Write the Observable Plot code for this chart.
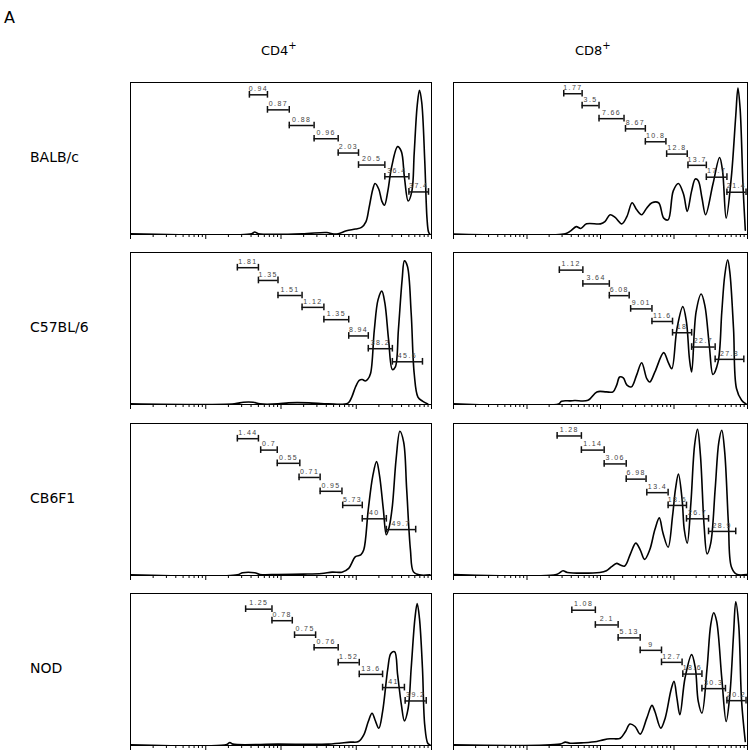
<!DOCTYPE html>
<html>
<head>
<meta charset="utf-8">
<script src="https://cdn.jsdelivr.net/npm/d3@7"></script>
<script src="https://cdn.jsdelivr.net/npm/@observablehq/plot@0.6"></script>
<style>
  html, body { margin: 0; padding: 0; background: #fff; }
  #root { position: relative; width: 750px; height: 751px; overflow: hidden; background: #fff; font-family: "DejaVu Sans", Verdana, sans-serif; color: #000; }
  .lbl { position: absolute; white-space: nowrap; line-height: 1; }
  .lbl sup { font-size: 10px; vertical-align: 6px; line-height: 0; }
  .panel { position: absolute; }
</style>
</head>
<body>
<div id="root"></div>
<script>
// ---------- data ----------
const panelLetter = "A";
const cellTypes = ["CD4", "CD8"];
const strains = ["BALB/c", "C57BL/6", "CB6F1", "NOD"];

const majorTicks = [1, 10, 100, 1000, 10000];
const minorTicks = [2, 3, 4, 5, 6, 7, 8, 9,
  20, 30, 40, 50, 60, 70, 80, 90,
  200, 300, 400, 500, 600, 700, 800, 900,
  2000, 3000, 4000, 5000, 6000, 7000, 8000, 9000];

// histogram curves: [log10 fluorescence, % of panel height]
const balbCD4 = [[0,0.5],[1.61,0.5],[1.65,1.6],[1.70,0.5],[2.28,0.5],[2.61,1.3],[2.68,0.5],[2.76,0.5],[2.87,2.5],[2.99,3.6],[3.07,4.7],[3.13,8.5],[3.17,17.5],[3.22,29.8],[3.25,33.6],[3.30,29.8],[3.34,22],[3.375,19.3],[3.42,28.7],[3.47,44.4],[3.55,57.8],[3.60,54.5],[3.64,37.7],[3.69,22],[3.74,28.7],[3.77,53.4],[3.81,84.8],[3.84,94.8],[3.87,87],[3.91,48.9],[3.94,10.8],[3.96,1.8],[3.98,0]];
const balbCD8 = [[0,0.3],[1.52,0.5],[1.59,2.2],[1.67,5.2],[1.73,4.0],[1.81,7.0],[2.0,7.0],[2.06,8.5],[2.13,13],[2.2,11.2],[2.29,7],[2.36,11.9],[2.43,20.9],[2.49,16.4],[2.56,13],[2.63,17.5],[2.70,20.9],[2.79,20.9],[2.86,10.8],[2.92,9.6],[2.99,28.7],[3.06,33.6],[3.13,26.5],[3.18,15.2],[3.24,28.7],[3.29,36.5],[3.33,35.4],[3.38,24.2],[3.43,13],[3.53,33.2],[3.62,50.7],[3.66,42.2],[3.71,10.8],[3.78,37.7],[3.84,78],[3.87,96.4],[3.90,82.5],[3.94,30.9],[3.97,2.9]];
const c57CD4 = [[0,0.4],[1.38,0.4],[1.50,1.5],[1.63,1.5],[1.72,0.4],[1.96,0.4],[2.10,1.1],[2.37,1.1],[2.63,0.4],[2.89,0.9],[2.94,4.9],[2.99,11.5],[3.04,15.9],[3.08,16.4],[3.12,15.5],[3.15,16.4],[3.19,20.4],[3.24,49],[3.29,69],[3.34,74.6],[3.38,66.8],[3.43,42.5],[3.48,23],[3.52,24.8],[3.56,49],[3.61,82.3],[3.64,94.5],[3.68,91],[3.73,60],[3.77,20.4],[3.82,4.9],[3.88,2.2],[3.95,0.4]];
const c57CD8 = [[0,0.4],[1.43,0.4],[1.47,2.2],[1.59,2.4],[1.65,2.6],[1.83,2.8],[1.95,8.3],[2.08,8.3],[2.17,8.3],[2.22,12.7],[2.26,18.1],[2.31,17.5],[2.36,12.7],[2.42,11.6],[2.49,19.2],[2.56,27.5],[2.63,17],[2.67,14.8],[2.74,21.4],[2.86,34.1],[2.92,27.9],[2.97,23.6],[3.04,49.8],[3.12,64.4],[3.17,54.1],[3.21,30.1],[3.24,21.4],[3.30,60.7],[3.37,72.7],[3.42,65.1],[3.48,38.9],[3.53,19.7],[3.60,28],[3.65,60.7],[3.69,84.7],[3.73,95.2],[3.76,86.9],[3.81,49.8],[3.85,10.5],[3.92,2.8],[3.98,0.4]];
const cb6CD4 = [[0,0.4],[1.42,0.4],[1.49,1.8],[1.65,1.8],[1.72,0.7],[1.96,0.7],[2.30,0.9],[2.54,1.3],[2.68,2.2],[2.81,2.2],[2.90,4.7],[2.99,12.4],[3.06,13.5],[3.10,16.9],[3.16,43.5],[3.22,65.6],[3.27,74.9],[3.31,65.6],[3.36,43.5],[3.40,26.8],[3.44,32.4],[3.48,45.7],[3.53,76.7],[3.58,94.9],[3.63,87.8],[3.67,56.8],[3.72,16.9],[3.76,2.4],[3.84,0.4],[3.98,0.4]];
const cb6CD8 = [[0,0.7],[1.40,0.7],[1.49,3.1],[1.55,2.0],[1.99,2.0],[2.08,3.1],[2.15,5.8],[2.22,8.0],[2.27,6.9],[2.33,6.2],[2.41,14.6],[2.48,21.3],[2.54,16.9],[2.60,10.6],[2.67,16.9],[2.74,30.2],[2.80,37.9],[2.85,27.9],[2.92,18.6],[2.98,39],[3.02,56.8],[3.06,66.7],[3.11,50.1],[3.14,30.2],[3.18,21.3],[3.23,47.9],[3.28,85.6],[3.32,96.2],[3.36,78.9],[3.41,32.4],[3.45,14.2],[3.50,21.3],[3.56,56.8],[3.61,87.8],[3.65,95.6],[3.69,81.2],[3.74,34.6],[3.78,5.8],[3.85,0.9],[3.99,0.7]];
const nodCD4 = [[0,0.4],[1.28,0.7],[1.32,2],[1.36,0.9],[1.96,0.9],[2.63,0.9],[2.92,2.2],[3.03,2.6],[3.10,7],[3.16,15.8],[3.21,21.2],[3.25,16.8],[3.30,11.4],[3.35,22.3],[3.42,50.8],[3.46,60.6],[3.51,61.7],[3.55,46.4],[3.60,26.7],[3.64,16.2],[3.69,24.5],[3.73,50.8],[3.78,83.6],[3.81,93.4],[3.84,83.6],[3.88,50.8],[3.91,13.6],[3.95,1.5],[3.98,0.4]];
const nodCD8 = [[0,0.4],[1.45,0.9],[1.52,2.2],[1.59,1.5],[1.77,1.8],[1.95,2.6],[2.04,3.7],[2.13,4.4],[2.18,4.4],[2.27,4.8],[2.34,9.2],[2.40,14.1],[2.47,12.5],[2.54,7.5],[2.63,18],[2.70,26.4],[2.74,22.4],[2.82,11.4],[2.88,18],[2.96,36.7],[3.00,42.2],[3.04,31.2],[3.08,20.2],[3.15,44.4],[3.24,59.8],[3.29,51],[3.33,29],[3.38,21.3],[3.45,51],[3.50,79.6],[3.54,87.3],[3.58,81.8],[3.65,44.4],[3.71,15.8],[3.76,33.4],[3.81,73],[3.84,94.5],[3.88,79.6],[3.92,29],[3.97,2.6]];

// division gates: [log10 start, log10 end, % height, label]
const balbCD4Gates = [[1.58,1.82,91.9,"0.94"],[1.82,2.11,82,"0.87"],[2.11,2.44,71.7,"0.88"],[2.44,2.76,63,"0.96"],[2.76,3.03,53.6,"2.03"],[3.03,3.38,45.7,"20.5"],[3.38,3.70,38,"36.4"],[3.70,3.96,28,"37.4"]];
const balbCD8Gates = [[1.50,1.75,92.6,"1.77"],[1.75,1.98,84.8,"3.5"],[1.98,2.32,76.2,"7.66"],[2.34,2.61,69.5,"8.67"],[2.61,2.89,61,"10.8"],[2.90,3.18,52.9,"12.8"],[3.19,3.44,45.5,"13.7"],[3.44,3.72,37.7,"17.7"],[3.72,3.98,27.8,"21.4"]];
const c57CD4Gates = [[1.42,1.70,90,"1.81"],[1.70,1.96,81.6,"1.35"],[1.96,2.28,71.7,"1.51"],[2.28,2.57,63.9,"1.12"],[2.57,2.90,55.8,"1.35"],[2.90,3.16,45.1,"8.94"],[3.16,3.48,36.7,"38.2"],[3.48,3.88,28.1,"45.6"]];
const c57CD8Gates = [[1.44,1.76,88.4,"1.12"],[1.76,2.12,79.3,"3.64"],[2.12,2.39,71.6,"6.08"],[2.41,2.70,62.9,"9.01"],[2.70,2.98,54.6,"11.6"],[2.98,3.24,47.2,"18"],[3.24,3.56,37.8,"22.7"],[3.56,3.95,29.7,"27.8"]];
const cb6CD4Gates = [[1.42,1.70,90,"1.44"],[1.73,1.95,82.5,"0.7"],[1.95,2.25,73.8,"0.55"],[2.24,2.52,64.5,"0.71"],[2.52,2.81,55.4,"0.95"],[2.82,3.08,46.1,"5.73"],[3.08,3.40,37.3,"40"],[3.40,3.79,30.2,"49.7"]];
const cb6CD8Gates = [[1.41,1.74,91.8,"1.28"],[1.74,2.05,82.5,"1.14"],[2.05,2.35,73.4,"3.06"],[2.35,2.62,63.4,"6.98"],[2.63,2.92,54.5,"13.4"],[2.92,3.17,46.1,"18.6"],[3.17,3.47,37.3,"26.7"],[3.47,3.84,29,"28.9"]];
const nodCD4Gates = [[1.53,1.88,89.7,"1.25"],[1.88,2.15,82.1,"0.78"],[2.18,2.46,72.6,"0.75"],[2.44,2.76,64.3,"0.76"],[2.76,3.04,54.5,"1.52"],[3.04,3.35,46.8,"13.6"],[3.35,3.64,38.1,"41"],[3.65,3.93,29.3,"39.2"]];
const nodCD8Gates = [[1.61,1.93,89,"1.08"],[1.93,2.24,79.3,"2.1"],[2.24,2.54,70.8,"5.13"],[2.54,2.83,62.6,"9"],[2.83,3.11,54.7,"12.7"],[3.12,3.38,47,"18.6"],[3.38,3.70,37.4,"30.3"],[3.72,3.98,29.5,"20.2"]];

const curves = [[balbCD4, balbCD8], [c57CD4, c57CD8], [cb6CD4, cb6CD8], [nodCD4, nodCD8]];
const gateSets = [[balbCD4Gates, balbCD8Gates], [c57CD4Gates, c57CD8Gates], [cb6CD4Gates, cb6CD8Gates], [nodCD4Gates, nodCD8Gates]];

// ---------- layout ----------
const colX = [130, 453];
const colW = [301, 294];
const rowY = [82, 252, 423, 593];
const panelH = 152;
const mL = 1, mR = 1, mT = 1, mB = 8;

const root = document.getElementById("root");

function addLabel(html, left, top, size) {
  const d = document.createElement("div");
  d.className = "lbl";
  d.innerHTML = html;
  d.style.left = left + "px";
  d.style.top = top + "px";
  d.style.fontSize = size + "px";
  root.appendChild(d);
  return d;
}

addLabel(panelLetter, 4, 10, 16);
addLabel(cellTypes[0] + "<sup>+</sup>", 261, 44, 13);
addLabel(cellTypes[1] + "<sup>+</sup>", 575, 44, 13);
strains.forEach((s, i) => {
  const d = addLabel(s, 30, 0, 14);
  d.style.top = (rowY[i] + panelH / 2 - 8) + "px";
});

const pow = v => Math.pow(10, v);

for (let r = 0; r < 4; r++) {
  for (let c = 0; c < 2; c++) {
    const pts = curves[r][c];
    const gates = gateSets[r][c];
    const ends = gates.flatMap(g => [{x: g[0], y: g[2]}, {x: g[1], y: g[2]}]);
    const w = colW[c];
    const chart = Plot.plot({
      width: w + mL + mR,
      height: panelH + mT + mB,
      marginLeft: mL, marginRight: mR, marginTop: mT, marginBottom: mB,
      x: {type: "log", domain: [1, 10000]},
      y: {domain: [0, 100], axis: null},
      style: {background: "transparent", overflow: "visible", fontFamily: "'Liberation Sans', Arial, sans-serif", letterSpacing: "1.4px"},
      marks: [
        Plot.line(pts, {x: d => pow(d[0]), y: d => d[1], curve: "catmull-rom", stroke: "black", strokeWidth: 1.6, clip: true}),
        Plot.ruleY(gates, {x1: d => pow(d[0]), x2: d => pow(d[1]), y: d => d[2], stroke: "#111", strokeWidth: 1.5}),
        Plot.ruleX(ends, {x: d => pow(d.x), y1: d => d.y - 2.2, y2: d => d.y + 2.2, stroke: "#111", strokeWidth: 1.5}),
        Plot.text(gates, {x: d => pow((d[0] + d[1]) / 2), y: d => d[2], text: d => d[3], dy: -6, fontSize: 7, fill: "#444"}),
        Plot.frame({stroke: "black", strokeWidth: 1}),
        Plot.axisX({ticks: majorTicks, tickSize: 5, tickFormat: () => "", label: null, stroke: "black"}),
        Plot.axisX({ticks: minorTicks, tickSize: 3, tickFormat: () => "", label: null, stroke: "black"})
      ]
    });
    chart.classList.add("panel");
    chart.style.left = (colX[c] - mL) + "px";
    chart.style.top = (rowY[r] - mT) + "px";
    root.appendChild(chart);
  }
}
</script>
</body>
</html>
